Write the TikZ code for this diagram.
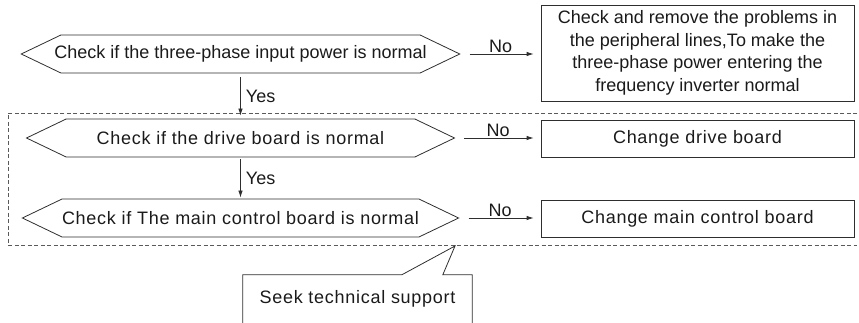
\documentclass[tikz,border=0pt]{standalone}
\usepackage{fontspec}
\setmainfont{Liberation Sans}
\usetikzlibrary{arrows.meta,positioning,calc,shapes.symbols}
\definecolor{linegray}{HTML}{2E2E2E}
\definecolor{dashgray}{HTML}{5A5A5A}
\definecolor{inktext}{HTML}{1A1A1A}

\begin{document}
\begin{tikzpicture}[x=1pt,y=-1pt,>={Latex[length=7pt,width=4.5pt]},
 chk/.style={draw=linegray,line width=0.8pt,shape=signal,signal to=west and east,
   signal pointer angle=51.2,minimum width=428pt,minimum height=38pt,inner sep=0pt,
   text=inktext,font=\fontsize{18pt}{22pt}\selectfont},
 wide/.style={font=\fontsize{18pt}{22pt}\selectfont\addfontfeature{LetterSpace=4}},
 act/.style={draw=linegray,line width=0.8pt,minimum width=313pt,align=center,inner sep=0pt,
   text=inktext,font=\fontsize{18pt}{22.5pt}\selectfont},
 lbl/.style={text=inktext,inner sep=2pt,font=\fontsize{18pt}{22pt}\selectfont},
 link/.style={->,draw=linegray,line width=0.8pt}]
\useasboundingbox (0,0) rectangle (859,323);
% checks on the left
\node[chk,inner xsep=-6.5pt] (power) at (240.5,54) {Check if the three-phase input power is normal};
\node[chk,wide] (drive) at (240.5,138) {Check if the drive board is normal};
\node[chk,wide] (ctrl) at (240.5,218) {Check if The main control board is normal};
% actions on the right
\node[act,minimum height=96pt] (fixlines) at (697.5,53)
 {Check and remove the problems in\\the peripheral lines,To make the\\three-phase power entering the\\frequency inverter normal};
\node[act,wide,minimum height=37pt] (newdrive) at (697.5,138.5) {Change drive board};
\node[act,wide,minimum height=37pt] (newctrl) at (697.5,218.5) {Change main control board};
% support callout
\node[lbl,wide,minimum width=229pt,minimum height=48pt] (help) at (357.5,299) {Seek technical support};
\coordinate (tip) at (455,246);
% frame round the board checks
\draw[dashgray,line width=0.7pt,dash pattern=on 4pt off 2.5pt] (857,113) -| (8,245) -- (857,245);
\draw[linegray,line width=0.8pt] (help.south west) |- ($(help.north west)+(159,0)$) -- (tip)
 -- ($(help.north west)+(200,0)$) -| (help.south east);
% connectors
\draw[link,shorten <=9pt,shorten >=7pt] (power.east) -- (power.east -| fixlines.west)
 node[lbl,midway,above=-1pt] {No};
\draw[link,shorten <=9pt,shorten >=7pt] (drive.east) -- (drive.east -| newdrive.west)
 node[lbl,midway,above=-1pt] {No};
\draw[link,shorten <=9pt,shorten >=7pt] (ctrl.east) -- (ctrl.east -| newctrl.west)
 node[lbl,midway,above=-1pt] {No};
\draw[link,shorten <=4pt,shorten >=3pt] (power.south) -- (drive.north)
 node[lbl,midway,right=3pt] {Yes};
\draw[link,shorten <=2pt,shorten >=1pt] (drive.south) -- (ctrl.north)
 node[lbl,midway,right=3pt] {Yes};
\end{tikzpicture}
\end{document}
